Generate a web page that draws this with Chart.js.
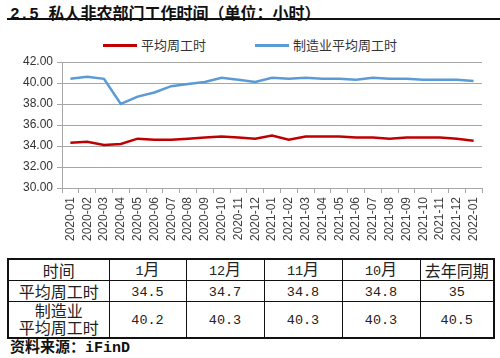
<!DOCTYPE html>
<html>
<head>
<meta charset="utf-8">
<script src="https://cdn.jsdelivr.net/npm/chart.js@4/dist/chart.umd.min.js"></script>
<style>
  body { margin:0; width:500px; height:358px; background:#fff; position:relative; overflow:hidden;
         font-family:"Noto Sans CJK SC", sans-serif; color:#111; }
  .abs { position:absolute; }
  .mono { font-family:"Liberation Mono", monospace; }
  #title { left:10px; top:3px; font-size:16px; line-height:18px; font-weight:bold; white-space:nowrap; }
  #rule { left:7px; top:18px; width:493px; height:2px; background:#111; }
  .lg-line { height:3px; width:34px; top:44px; }
  .lg-text { top:37px; font-size:13px; line-height:16px; color:#333; white-space:nowrap; }
  #wrap { left:0; top:50px; width:500px; height:200px; }
  table { position:absolute; left:7px; top:258px; width:486px; border-collapse:collapse;
          border:2px solid #111; table-layout:fixed; }
  td { border:1px solid #111; text-align:center; padding:0; font-size:16px; line-height:17px; color:#222; }
  td .mono { font-size:13.5px; }
  #src { left:10px; top:337px; font-size:15px; line-height:18px; font-weight:bold; white-space:nowrap; }
</style>
</head>
<body>
<div id="title" class="abs"><span class="mono">2.5 </span>私人非农部门工作时间（单位：小时）</div>
<div id="rule" class="abs"></div>

<div class="abs lg-line" style="left:103px;background:#c00000"></div>
<div class="abs lg-text" style="left:141px">平均周工时</div>
<div class="abs lg-line" style="left:255px;background:#5b9bd5"></div>
<div class="abs lg-text" style="left:293px">制造业平均周工时</div>

<div id="wrap" class="abs"><canvas id="c"></canvas></div>

<table>
  <colgroup><col style="width:101px"><col style="width:77px"><col style="width:78px"><col style="width:78px"><col style="width:78px"><col style="width:74px"></colgroup>
  <tr style="height:20px"><td>时间</td><td><span class="mono">1</span>月</td><td><span class="mono">12</span>月</td><td><span class="mono">11</span>月</td><td><span class="mono">10</span>月</td><td>去年同期</td></tr>
  <tr style="height:21px" id="row1"></tr>
  <tr style="height:36px" id="row2"></tr>
</table>

<div id="src" class="abs">资料来源：<span class="mono">iFinD</span></div>

<script>
const months = ['2020-01','2020-02','2020-03','2020-04','2020-05','2020-06','2020-07','2020-08','2020-09','2020-10','2020-11','2020-12',
                '2021-01','2021-02','2021-03','2021-04','2021-05','2021-06','2021-07','2021-08','2021-09','2021-10','2021-11','2021-12','2022-01'];
const avgHours = [34.3,34.4,34.1,34.2,34.7,34.6,34.6,34.7,34.8,34.9,34.8,34.7,
                  35.0,34.6,34.9,34.9,34.9,34.8,34.8,34.7,34.8,34.8,34.8,34.7,34.5];
const mfgHours = [40.4,40.6,40.4,38.0,38.7,39.1,39.7,39.9,40.1,40.5,40.3,40.1,
                  40.5,40.4,40.5,40.4,40.4,40.3,40.5,40.4,40.4,40.3,40.3,40.3,40.2];

// 表格
const tableAvg = ['34.5','34.7','34.8','34.8','35'];
const tableMfg = ['40.2','40.3','40.3','40.3','40.5'];

document.getElementById('row1').innerHTML = '<td>平均周工时</td>' +
  tableAvg.map(v => `<td><span class="mono">${v}</span></td>`).join('');
document.getElementById('row2').innerHTML = '<td>制造业<br>平均周工时</td>' +
  tableMfg.map(v => `<td><span class="mono">${v}</span></td>`).join('');

const gridColor = '#a6a6a6';

new Chart(document.getElementById('c'), {
  type: 'line',
  data: {
    labels: months,
    datasets: [
      { label: '平均周工时', data: avgHours, borderColor: '#c00000', borderWidth: 2.5, pointRadius: 0, tension: 0, fill: false },
      { label: '制造业平均周工时', data: mfgHours, borderColor: '#5b9bd5', borderWidth: 2.5, pointRadius: 0, tension: 0, fill: false }
    ]
  },
  options: {
    responsive: true,
    maintainAspectRatio: false,
    animation: false,
    layout: { padding: { top: 12, right: 18, left: 0, bottom: 0 } },
    plugins: { legend: { display: false }, tooltip: { enabled: false } },
    scales: {
      x: {
        type: 'category',
        offset: true,
        grid: { offset: true, drawOnChartArea: false, tickLength: 5, color: gridColor },
        border: { color: gridColor },
        ticks: { minRotation: 90, maxRotation: 90, autoSkip: false, padding: 4, color: '#404040',
                 font: { family: 'Liberation Sans', size: 12 } },
        afterFit: s => { s.height = 62; }
      },
      y: {
        min: 30, max: 42,
        grid: { color: gridColor, tickLength: 5 },
        border: { color: gridColor },
        ticks: { stepSize: 2, padding: 4, color: '#333', font: { family: 'Liberation Sans', size: 12 },
                 callback: v => v.toFixed(2) },
        afterFit: s => { s.width = 62; }
      }
    }
  }
});
</script>
</body>
</html>
